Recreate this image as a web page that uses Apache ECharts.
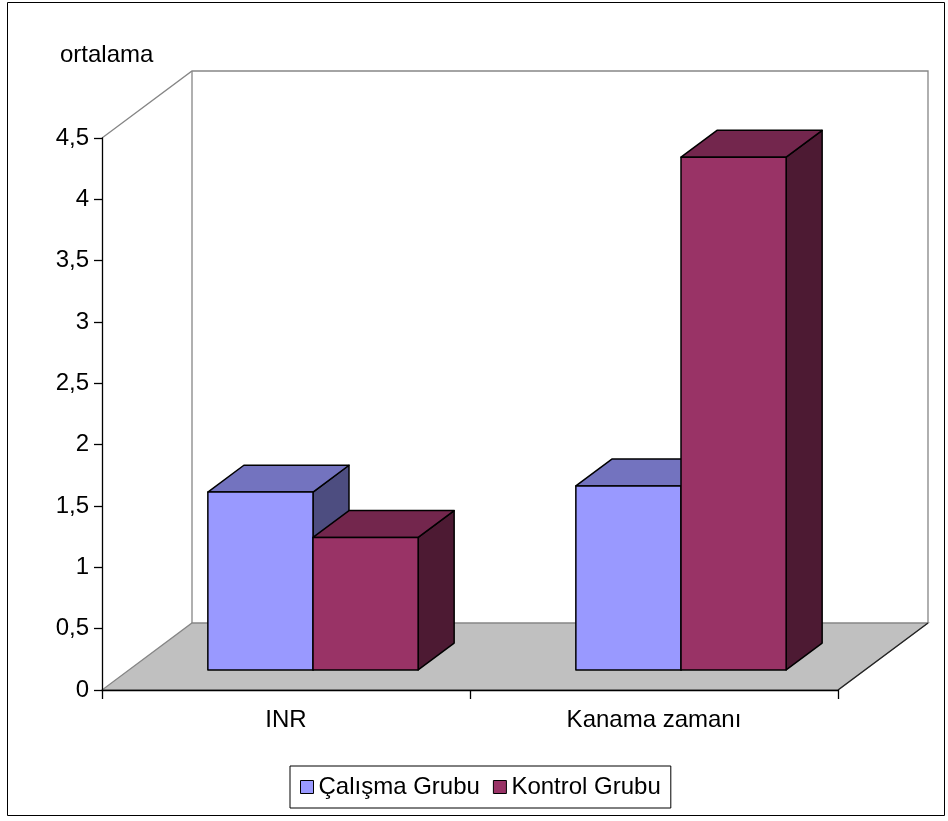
<!DOCTYPE html>
<html>
<head>
<meta charset="utf-8">
<script src="https://cdn.jsdelivr.net/npm/echarts@6/dist/echarts.min.js"></script>
<style>
  html, body { margin: 0; padding: 0; background: #fff; }
  #chart { width: 948px; height: 821px; }
</style>
</head>
<body>
<div id="chart"></div>
<script>
// Categories and mean values of each group
const categories = ['INR', 'Kanama zamanı'];
const calismaName = 'Çalışma Grubu';
const kontrolName = 'Kontrol Grubu';
const calismaValues = [1.45, 1.50];
const kontrolValues = [1.08, 4.18];
const yAxisTitle = 'ortalama';

// Perspective depth of the 3D box (pixels) and colours
const DEPTH_X = 90;
const DEPTH_Y = -67;
const BAR_FRONT = 0.3;   // share of depth before the bar front
const BAR_DEPTH = 0.4;   // share of depth taken by a bar
const GAP_RATIO = 1.5;   // gap between clusters relative to one bar width
const FONT = 'Liberation Sans, Arial, sans-serif';
const FONT_SIZE = 24;

const palette = [
  { front: '#9999FF', top: '#7373BF', side: '#4D4D80' },
  { front: '#993366', top: '#73264D', side: '#4D1A33' }
];

function barRenderer(seriesIdx, nSeries) {
  return function (params, api) {
    const cat = api.value(0);
    const base = api.coord([cat, 0]);
    const top = api.coord([cat, api.value(1)]);
    const band = api.size([1, 0])[0];
    const w = band / (nSeries + GAP_RATIO);
    const fx = DEPTH_X * BAR_FRONT, fy = DEPTH_Y * BAR_FRONT;
    const bx = DEPTH_X * BAR_DEPTH, by = DEPTH_Y * BAR_DEPTH;
    const x0 = base[0] - (nSeries / 2) * w + seriesIdx * w + fx;
    const x1 = x0 + w;
    const yt = top[1] + fy;
    const yb = base[1] + fy;
    const col = palette[seriesIdx];
    const line = { stroke: '#000', lineWidth: 1.5, lineJoin: 'round' };
    return {
      type: 'group',
      children: [
        { type: 'polygon', shape: { points: [[x1, yt], [x1 + bx, yt + by], [x1 + bx, yb + by], [x1, yb]] },
          style: Object.assign({ fill: col.side }, line) },
        { type: 'polygon', shape: { points: [[x0, yt], [x1, yt], [x1 + bx, yt + by], [x0 + bx, yt + by]] },
          style: Object.assign({ fill: col.top }, line) },
        { type: 'rect', shape: { x: x0, y: yt, width: w, height: yb - yt },
          style: Object.assign({ fill: col.front }, line) }
      ]
    };
  };
}

// Back wall, side wall edge and floor of the 3D plot area
function frameRenderer(params, api) {
  const cs = params.coordSys;
  const L = cs.x, R = cs.x + cs.width, T = cs.y, B = cs.y + cs.height;
  const gray = { stroke: '#868686', lineWidth: 1.3, fill: null };
  return {
    type: 'group',
    children: [
      { type: 'polygon', shape: { points: [[L, B], [R, B], [R + DEPTH_X, B + DEPTH_Y], [L + DEPTH_X, B + DEPTH_Y]] },
        style: { fill: '#C0C0C0', stroke: '#868686', lineWidth: 1.3 } },
      { type: 'polyline', shape: { points: [[L, T], [L + DEPTH_X, T + DEPTH_Y], [R + DEPTH_X, T + DEPTH_Y], [R + DEPTH_X, B + DEPTH_Y]] }, style: gray },
      { type: 'line', shape: { x1: L + DEPTH_X, y1: T + DEPTH_Y, x2: L + DEPTH_X, y2: B + DEPTH_Y }, style: gray },
      { type: 'line', shape: { x1: R, y1: B, x2: R + DEPTH_X, y2: B + DEPTH_Y }, style: { stroke: '#222', lineWidth: 1.2 } }
    ]
  };
}

const chart = echarts.init(document.getElementById('chart'), null, { renderer: 'canvas' });

chart.setOption({
  animation: false,
  backgroundColor: '#fff',
  textStyle: { fontFamily: FONT },
  title: {
    text: yAxisTitle,
    left: 60, top: 43, padding: 0,
    textStyle: { fontFamily: FONT, fontSize: FONT_SIZE, fontWeight: 'normal', color: '#000' }
  },
  grid: { left: 102, top: 138, width: 736, height: 552, containLabel: false },
  xAxis: {
    type: 'category',
    data: categories,
    boundaryGap: true,
    z: 5,
    axisLine: { show: true, lineStyle: { color: '#000', width: 1.3 } },
    axisTick: { show: true, length: 9, alignWithLabel: false, lineStyle: { color: '#000', width: 1.3 } },
    axisLabel: { color: '#000', fontSize: FONT_SIZE, fontFamily: FONT, margin: 18 },
    splitLine: { show: false }
  },
  yAxis: {
    type: 'value',
    min: 0, max: 4.5, interval: 0.5,
    z: 5,
    axisLine: { show: true, lineStyle: { color: '#000', width: 1.3 } },
    axisTick: { show: true, length: 8, lineStyle: { color: '#000', width: 1.3 } },
    axisLabel: {
      color: '#000', fontSize: FONT_SIZE, fontFamily: FONT, margin: 13,
      formatter: v => String(v).replace('.', ',')
    },
    splitLine: { show: false }
  },
  legend: {
    data: [calismaName, kontrolName],
    left: 290, top: 766,
    padding: [9, 10],
    itemGap: 13,
    itemWidth: 13, itemHeight: 13,
    icon: 'rect',
    borderColor: '#000', borderWidth: 1,
    itemStyle: { borderColor: '#000', borderWidth: 1 },
    textStyle: { color: '#000', fontSize: FONT_SIZE, fontFamily: FONT }
  },
  graphic: [
    { type: 'rect', z: -10, silent: true,
      shape: { x: 7.5, y: 2.5, width: 937, height: 813 },
      style: { fill: null, stroke: '#000', lineWidth: 1 } }
  ],
  series: [
    {
      type: 'custom', name: 'frame', z: 1, silent: true,
      renderItem: frameRenderer,
      data: [[0, 0]]
    },
    {
      type: 'custom', name: calismaName, z: 2,
      itemStyle: { color: palette[0].front },
      renderItem: barRenderer(0, 2),
      encode: { x: 0, y: 1 },
      data: categories.map((c, i) => [i, calismaValues[i]])
    },
    {
      type: 'custom', name: kontrolName, z: 3,
      itemStyle: { color: palette[1].front },
      renderItem: barRenderer(1, 2),
      encode: { x: 0, y: 1 },
      data: categories.map((c, i) => [i, kontrolValues[i]])
    }
  ]
});
</script>
</body>
</html>
